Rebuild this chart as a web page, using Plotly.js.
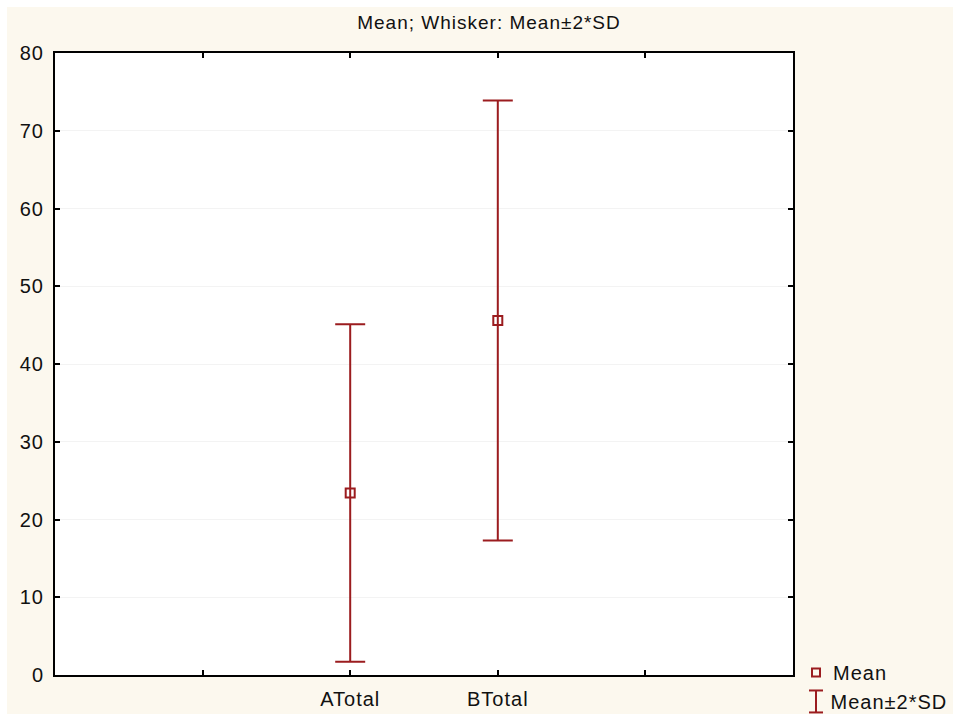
<!DOCTYPE html>
<html>
<head>
<meta charset="utf-8">
<script src="https://cdn.plot.ly/plotly-3.0.1.min.js"></script>
<style>
  html, body { margin: 0; padding: 0; background: #ffffff; }
  #chart { position: absolute; left: 7px; top: 7px; width: 946px; height: 707px; }
  #chart text { letter-spacing: 1px; }
</style>
</head>
<body>
<div id="chart"></div>
<script>
// Data
const categories = ["ATotal", "BTotal"];
const positions = [1, 2];
const means = [23.4, 45.6];
const twoSD = [21.7, 28.3];
const tickPositions = [0, 1, 2, 3];
const tickLabels = ["", "ATotal", "BTotal", ""];
const yTicks = [0, 10, 20, 30, 40, 50, 60, 70, 80];

const red = "#9b1c1f";
const fontFam = "Liberation Sans, Arial, sans-serif";
const txt = "#111111";

const trace = {
  type: "scatter",
  mode: "markers",
  x: positions,
  y: means,
  text: categories,
  marker: { symbol: "square-open", size: 9, color: red, line: { color: red, width: 2 } },
  error_y: { type: "data", array: twoSD, visible: true, color: red, thickness: 2, width: 15 },
  showlegend: false,
  hoverinfo: "text+y"
};

// manual legend (plot-area paper coords)
const L = 55, R = 793, T = 52.5, B = 675.5;
const px = v => (v - L) / (R - L);
const py = v => (B - v) / (B - T);

const shapes = [
  { type: "rect", xref: "paper", yref: "paper", xsizemode: "pixel", ysizemode: "pixel",
    xanchor: px(816), yanchor: py(673), x0: -4, x1: 4, y0: -4, y1: 4,
    line: { color: red, width: 2 }, fillcolor: "rgba(0,0,0,0)" },
  { type: "line", xref: "paper", yref: "paper", x0: px(816), x1: px(816), y0: py(691), y1: py(713),
    line: { color: red, width: 2 } },
  { type: "line", xref: "paper", yref: "paper", x0: px(809), x1: px(823), y0: py(691), y1: py(691),
    line: { color: red, width: 2 } },
  { type: "line", xref: "paper", yref: "paper", x0: px(809), x1: px(823), y0: py(713), y1: py(713),
    line: { color: red, width: 2 } }
];

const annotations = [
  { xref: "paper", yref: "paper", x: px(833), y: py(673), xanchor: "left", yanchor: "middle",
    text: "Mean", showarrow: false, font: { family: fontFam, size: 20, color: txt } },
  { xref: "paper", yref: "paper", x: px(833), y: py(703), xanchor: "left", yanchor: "middle",
    text: "Mean±2*SD", showarrow: false, font: { family: fontFam, size: 20, color: txt } }
];

const layout = {
  width: 946,
  height: 707,
  paper_bgcolor: "#fcf8ee",
  plot_bgcolor: "#ffffff",
  margin: { l: 48, r: 160, t: 45.5, b: 38.5, pad: 0 },
  title: {
    text: "Mean; Whisker: Mean±2*SD",
    font: { family: fontFam, size: 19, color: txt },
    x: 0.5095, xref: "container", xanchor: "center",
    y: 1 - 15 / 707, yref: "container", yanchor: "middle"
  },
  xaxis: {
    range: [-1, 4],
    tickvals: tickPositions,
    ticktext: tickLabels,
    ticks: "inside",
    ticklen: 5,
    tickwidth: 2,
    tickcolor: "#000",
    showline: true,
    linecolor: "#000",
    linewidth: 2,
    mirror: "ticks",
    showgrid: false,
    zeroline: false,
    ticklabelstandoff: 5,
    tickfont: { family: fontFam, size: 20, color: txt }
  },
  yaxis: {
    range: [0, 80],
    tickvals: yTicks,
    ticks: "inside",
    ticklen: 5,
    tickwidth: 2,
    tickcolor: "#000",
    showline: true,
    linecolor: "#000",
    linewidth: 2,
    mirror: "ticks",
    showgrid: true,
    gridcolor: "#f3f3f3",
    gridwidth: 1,
    zeroline: false,
    ticklabelstandoff: 5,
    tickfont: { family: fontFam, size: 20, color: txt }
  },
  shapes: shapes,
  annotations: annotations,
  showlegend: false
};

Plotly.newPlot("chart", [trace], layout, { displayModeBar: false, staticPlot: true });
</script>
</body>
</html>
